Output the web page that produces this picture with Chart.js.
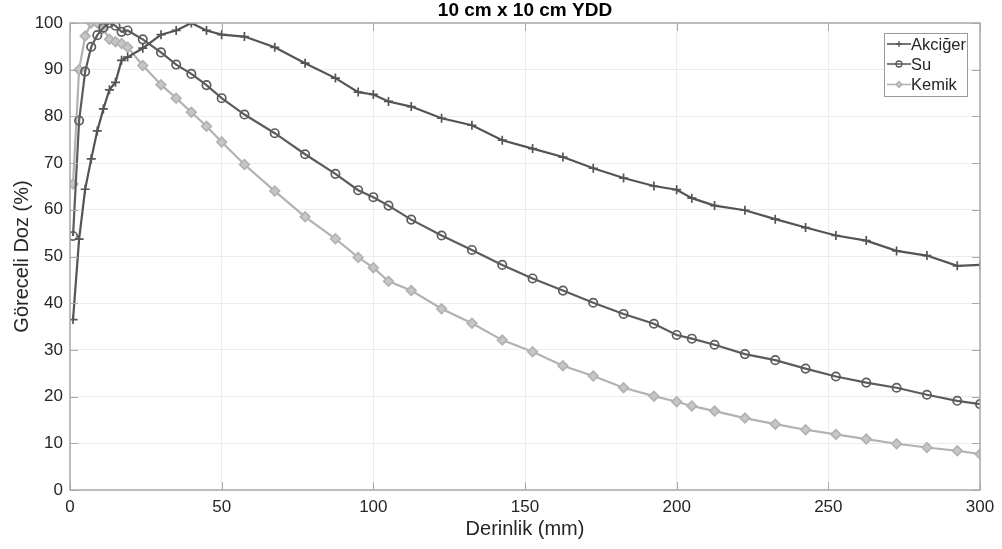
<!DOCTYPE html>
<html>
<head>
<meta charset="utf-8">
<title>10 cm x 10 cm YDD</title>
<script src="https://cdn.jsdelivr.net/npm/chart.js@4.4.1/dist/chart.umd.min.js"></script>
<style>
  html, body { margin: 0; padding: 0; background: #ffffff; }
  #wrap { position: relative; width: 1002px; height: 549px; }
</style>
</head>
<body>
<div id="wrap"><canvas id="chart"></canvas></div>
<script>
// Depth of each measurement point (mm)
const depthMm = [1, 3, 5, 7, 9, 11, 13, 15, 17, 19, 24, 30, 35, 40, 45, 50,
  57.5, 67.5, 77.5, 87.5, 95, 100, 105, 112.5, 122.5, 132.5, 142.5, 152.5,
  162.5, 172.5, 182.5, 192.5, 200, 205, 212.5, 222.5, 232.5, 242.5, 252.5,
  262.5, 272.5, 282.5, 292.5, 300];

// Relative dose (%) per medium
const akcigerDoz = [36.5, 53.7, 64.4, 70.9, 76.9, 81.6, 85.7, 87.3, 92.0, 92.7,
  94.6, 97.5, 98.4, 100, 98.4, 97.5, 97.1, 94.8, 91.4, 88.2, 85.2, 84.7, 83.2,
  82.1, 79.6, 78.1, 74.9, 73.1, 71.3, 68.9, 66.8, 65.1, 64.3, 62.5, 60.9, 59.9,
  58.0, 56.2, 54.5, 53.4, 51.2, 50.2, 48.0, 48.2];
const suDoz = [54.4, 79.1, 89.6, 94.9, 97.4, 99.0, 100, 99.4, 98.1, 98.4,
  96.5, 93.7, 91.1, 89.1, 86.7, 83.9, 80.4, 76.4, 71.9, 67.7, 64.2, 62.7, 60.9,
  57.9, 54.5, 51.4, 48.2, 45.3, 42.7, 40.1, 37.7, 35.6, 33.2, 32.4, 31.1, 29.1,
  27.8, 26.0, 24.3, 23.0, 21.9, 20.4, 19.1, 18.4];
const kemikDoz = [65.5, 90.0, 97.2, 100, 100, 98.8, 96.5, 96.0, 95.6, 94.8,
  90.9, 86.8, 83.9, 80.9, 77.9, 74.5, 69.7, 64.0, 58.5, 53.8, 49.8, 47.6, 44.7,
  42.7, 38.8, 35.7, 32.1, 29.6, 26.6, 24.4, 21.9, 20.1, 18.9, 18.0, 16.9, 15.4,
  14.1, 12.9, 11.9, 10.9, 9.9, 9.1, 8.4, 7.7];

const seriesNames = ['Akciğer', 'Su', 'Kemik'];
const chartTitle = '10 cm x 10 cm YDD';
const xAxisTitle = 'Derinlik (mm)';
const yAxisTitle = 'Göreceli Doz (%)';

const FONT = '"Liberation Sans", Arial, Helvetica, sans-serif';
const TEXT = '#262626';
const AXIS = '#a9a9a9';
const GRID = '#ececec';

const styles = [
  { color: '#545454', point: 'cross',   radius: 4.5, fill: '#545454' },
  { color: '#5c5c5c', point: 'circle',  radius: 4.2, fill: 'rgba(0,0,0,0)' },
  { color: '#b2b2b2', point: 'rectRot', radius: 4.8, fill: '#c6c6c6' }
];

function toPoints(values) {
  return depthMm.map((d, i) => ({ x: d, y: values[i] }));
}

const datasets = [akcigerDoz, suDoz, kemikDoz].map((vals, i) => ({
  label: seriesNames[i],
  data: toPoints(vals),
  showLine: true,
  borderColor: styles[i].color,
  borderWidth: 2.2,
  pointStyle: styles[i].point,
  pointRadius: styles[i].radius,
  pointBorderWidth: 1.7,
  pointBorderColor: styles[i].color,
  pointBackgroundColor: styles[i].fill,
  tension: 0
}));
// draw Akciğer on top, Kemik at the back
datasets[0].order = 1;
datasets[1].order = 2;
datasets[2].order = 3;

// Title, inward tick marks, axis box and an in-plot legend
const decorations = {
  id: 'decorations',
  afterDraw(chart) {
    const ctx = chart.ctx;
    const a = chart.chartArea;
    const xs = chart.scales.x, ys = chart.scales.y;
    ctx.save();

    // axis box
    ctx.strokeStyle = AXIS;
    ctx.lineWidth = 1.5;
    ctx.strokeRect(a.left, a.top, a.right - a.left, a.bottom - a.top);

    // tick marks pointing into the plot
    const tl = 8;
    ctx.beginPath();
    xs.ticks.forEach(t => {
      const px = Math.round(xs.getPixelForValue(t.value)) + 0.5;
      ctx.moveTo(px, a.bottom); ctx.lineTo(px, a.bottom - tl);
      ctx.moveTo(px, a.top); ctx.lineTo(px, a.top + tl);
    });
    ys.ticks.forEach(t => {
      const py = Math.round(ys.getPixelForValue(t.value)) + 0.5;
      ctx.moveTo(a.left, py); ctx.lineTo(a.left + tl, py);
      ctx.moveTo(a.right, py); ctx.lineTo(a.right - tl, py);
    });
    ctx.lineWidth = 1;
    ctx.stroke();

    // title
    ctx.fillStyle = '#000000';
    ctx.font = 'bold 19px ' + FONT;
    ctx.textAlign = 'center';
    ctx.textBaseline = 'middle';
    ctx.fillText(chartTitle, (a.left + a.right) / 2, 11);

    // legend box
    const bx = 884, by = 33, bw = 83, bh = 63;
    ctx.fillStyle = '#ffffff';
    ctx.fillRect(bx, by, bw, bh);
    ctx.strokeStyle = '#9a9a9a';
    ctx.lineWidth = 1;
    ctx.strokeRect(bx + 0.5, by + 0.5, bw, bh);

    const rows = [44, 64, 84.5];
    chart.data.datasets.forEach((ds, i) => {
      const y = rows[i];
      ctx.strokeStyle = ds.borderColor;
      ctx.lineWidth = 1.6;
      ctx.beginPath();
      ctx.moveTo(887, y); ctx.lineTo(911, y);
      ctx.stroke();
      ctx.fillStyle = ds.pointBackgroundColor;
      ctx.strokeStyle = ds.pointBorderColor;
      ctx.lineWidth = 1.3;
      Chart.helpers.drawPoint(ctx, { pointStyle: ds.pointStyle, radius: 3, rotation: 0 }, 899, y);
      if (ds.pointStyle !== 'cross') { ctx.fill(); }
      ctx.stroke();

      ctx.fillStyle = TEXT;
      ctx.font = '16.5px ' + FONT;
      ctx.textAlign = 'left';
      ctx.textBaseline = 'middle';
      ctx.fillText(ds.label, 911, y + 1);
    });
    ctx.restore();
  }
};

new Chart(document.getElementById('chart'), {
  type: 'scatter',
  data: { datasets },
  options: {
    responsive: true,
    maintainAspectRatio: false,
    animation: false,
    layout: { padding: { top: 23, right: 22, left: 0, bottom: 0 } },
    plugins: {
      legend: { display: false },
      tooltip: { enabled: false },
      title: { display: false }
    },
    scales: {
      x: {
        type: 'linear',
        min: 0, max: 300,
        border: { display: false },
        grid: { color: GRID, lineWidth: 1, drawTicks: false },
        ticks: {
          stepSize: 50, padding: 7, color: TEXT, maxRotation: 0,
          font: { family: FONT, size: 17 }
        },
        title: {
          display: true, text: xAxisTitle, color: TEXT,
          font: { family: FONT, size: 20 },
          padding: { top: 0, bottom: 8 }
        },
        afterFit(scale) { scale.height = 59; }
      },
      y: {
        type: 'linear',
        min: 0, max: 100,
        border: { display: false },
        grid: { color: GRID, lineWidth: 1, drawTicks: false },
        ticks: {
          stepSize: 10, padding: 7, color: TEXT,
          font: { family: FONT, size: 17 }
        },
        title: {
          display: true, text: yAxisTitle, color: TEXT,
          font: { family: FONT, size: 20 },
          padding: { top: 10, bottom: 0 }
        },
        afterFit(scale) { scale.width = 70; }
      }
    }
  },
  plugins: [decorations]
});
</script>
</body>
</html>
